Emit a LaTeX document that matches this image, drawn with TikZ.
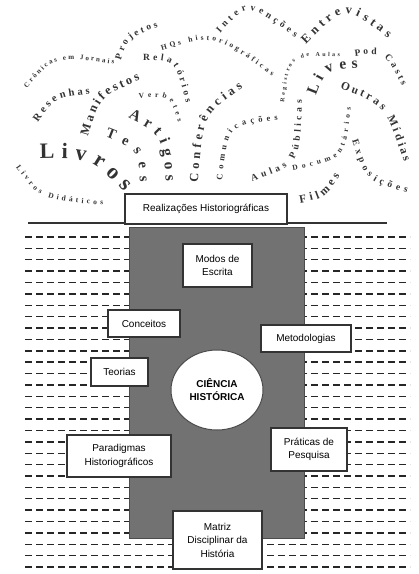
\documentclass[tikz,border=0pt]{standalone}
\usepackage{fontspec}
\setmainfont{Liberation Sans}
\newfontfamily\nuvem{Liberation Serif}
\usepackage{tikz}
\usetikzlibrary{shapes.geometric}
\usetikzlibrary{decorations.text}
\definecolor{cinza}{RGB}{114,114,114}
\tikzset{caixa/.style={draw=black!80, line width=1.3pt, fill=white, align=center, inner sep=2pt, font=\fontsize{10}{13.5}\selectfont}}
\tikzset{tracejado/.style={line width=1.4pt, black!85, dash pattern=on 7pt off 4pt}}
\tikzset{palavra/.style 2 args={decorate, decoration={text along path, text align=fit to path, text color=black!80, text={|\nuvem\bfseries\fontsize{#1}{#1}\selectfont|#2}}}}

\begin{document}
\begin{tikzpicture}[x=1pt,y=-1pt]
\useasboundingbox (0,0) rectangle (419,574);
% nuvem de palavras
\path[palavra={7}{Crônicas em Jornais}] (27,88) .. controls (55,56) .. (114,64);
\path[palavra={9.5}{Projetos}] (121,60) .. controls (128,38) .. (158,27);
\path[palavra={7.5}{HQs historiográficas}] (162,50) .. controls (215,34) .. (272,76);
\path[palavra={9.5}{Intervenções}] (220,33) .. controls (248,2) .. (295,38);
\path[palavra={12.5}{Entrevistas}] (306,44) .. controls (345,5) .. (388,38);
\path[palavra={9.5}{Relatórios}] (143,60) .. controls (175,60) .. (186,103);
\path[palavra={7.5}{Verbetes}] (139,98) .. controls (170,96) .. (178,122);
\path[palavra={6}{Registros de Aulas}] (284,102) .. controls (290,55) .. (340,57);
\path[palavra={9.5}{Pod Casts}] (355,56) .. controls (385,52) .. (402,86);
\path[palavra={15.5}{Lives}] (316,96) .. controls (326,70) .. (358,68);
\path[palavra={11.5}{Outras Mídias}] (340,88) .. controls (385,105) .. (404,162);
\path[palavra={7.5}{Documentários}] (293,170) .. controls (345,160) .. (351,108);
\path[palavra={9.5}{Exposições}] (352,140) .. controls (365,180) .. (407,193);
\path[palavra={11.5}{Filmes}] (300,203) .. controls (325,198) .. (340,176);
\path[palavra={9.5}{Aulas Públicas}] (252,181) .. controls (300,165) .. (302,100);
\path[palavra={8.5}{Comunicações}] (222,180) .. controls (228,125) .. (278,120);
\path[palavra={12.5}{Conferências}] (198,182) .. controls (203,115) .. (243,88);
\path[palavra={15.5}{Artigos}] (128,118) .. controls (162,135) .. (166,182);
\path[palavra={14.5}{Teses}] (105,137) .. controls (138,150) .. (140,182);
\path[palavra={12.5}{Manifestos}] (88,136) .. controls (100,97) .. (140,80);
\path[palavra={10.5}{Resenhas}] (38,122) .. controls (55,98) .. (90,94);
\path[palavra={22}{Livros}] (40,159) .. controls (92,158) .. (124,192);
\path[palavra={7.5}{Livros Didáticos}] (16,167) .. controls (40,200) .. (103,205);
% linhas tracejadas
\foreach \i in {0,...,29} {
\draw[tracejado] (25,237+11.38*\i) -- (410,237+11.38*\i);
}
\filldraw[fill=cinza, draw=black!70, line width=0.8pt] (129,227) rectangle (304,538);
\draw[line width=1.3pt, black!80] (28,223) -- (387,223);
\node[caixa, minimum width=162pt, minimum height=30pt] (realizacoes) at (206,209) {Realizações Historiográficas};
\node[caixa, minimum width=69pt, minimum height=43pt] (modos) at (217.5,265.5) {Modos de\\Escrita};
\node[caixa, minimum width=72pt, minimum height=27pt] (conceitos) at (144,323.5) {Conceitos};
\node[caixa, minimum width=90pt, minimum height=27pt] (metodologias) at (306,338.5) {Metodologias};
\node[caixa, minimum width=57pt, minimum height=28pt] (teorias) at (119.5,372) {Teorias};
\node[ellipse, draw=black!70, fill=white, line width=1pt, minimum width=92pt, minimum height=80pt, align=center, font=\bfseries\fontsize{10}{13}\selectfont] (ciencia) at (217,390) {CIÊNCIA\\HISTÓRICA};
\node[caixa, minimum width=104pt, minimum height=42pt] (paradigmas) at (119,456) {Paradigmas\\Historiográficos};
\node[caixa, minimum width=76pt, minimum height=43pt] (praticas) at (309,449.5) {Práticas de\\Pesquisa};
\node[caixa, minimum width=89pt, minimum height=58pt] (matriz) at (217.5,540) {Matriz\\Disciplinar da\\História};
\end{tikzpicture}
\end{document}
